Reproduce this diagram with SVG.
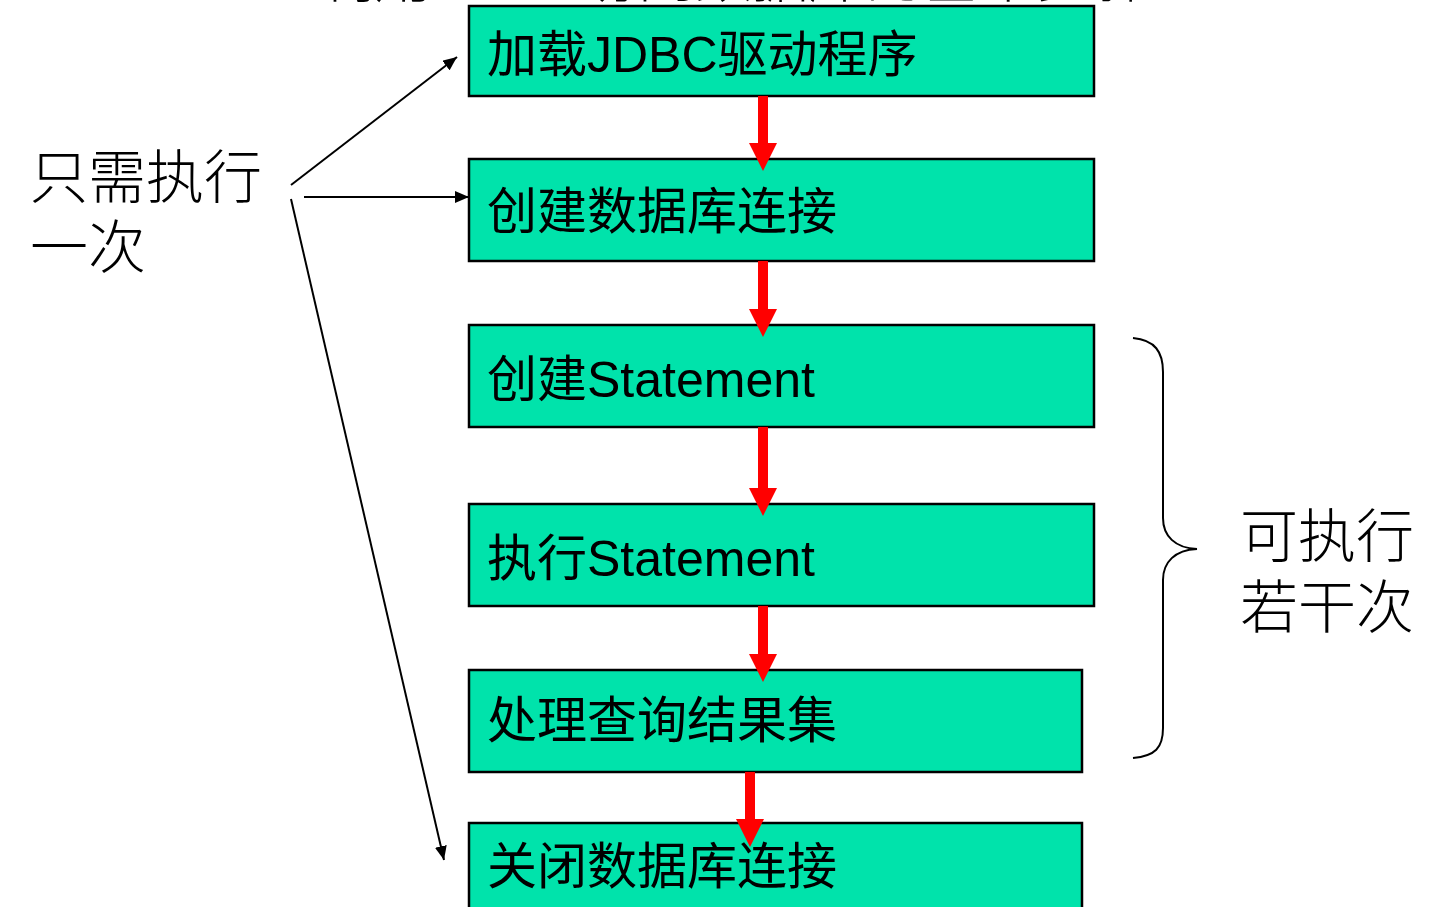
<svg xmlns="http://www.w3.org/2000/svg" width="1433" height="907" viewBox="0 0 1433 907">
  <style>
    .box { fill: #00E3AB; stroke: #000; stroke-width: 2.5; }
    .lbl { font-family: "Liberation Sans", "Noto Sans CJK SC", sans-serif; font-size: 50px; fill: #000; }
    .side { font-family: "Noto Sans CJK SC", sans-serif; font-size: 58px; fill: #000; font-weight: 300; }
    .ctl { fill: none; stroke: #000; stroke-width: 2; }
    .red { fill: #FF0000; }
  </style>
  <defs>
    <marker id="ah" markerUnits="userSpaceOnUse" markerWidth="16" markerHeight="12" refX="14" refY="6" orient="auto">
      <path d="M0,0 L14,6 L0,12 Z" fill="#000"/>
    </marker>
  </defs>
  <rect width="1433" height="907" fill="#fff"/>

  <text x="318" y="-3" style="font-family:'Liberation Sans','Noto Sans CJK SC',sans-serif;font-size:57px;font-weight:300">利用JDBC访问数据库的基本步骤</text>

  <g id="n1"><rect class="box" x="469" y="6" width="625" height="90"/><text class="lbl" x="487" y="72">加载JDBC驱动程序</text></g>
  <g id="n2"><rect class="box" x="469" y="159" width="625" height="102"/><text class="lbl" x="487" y="229">创建数据库连接</text></g>
  <g id="n3"><rect class="box" x="469" y="325" width="625" height="102"/><text class="lbl" x="487" y="397">创建Statement</text></g>
  <g id="n4"><rect class="box" x="469" y="504" width="625" height="102"/><text class="lbl" x="487" y="576">执行Statement</text></g>
  <g id="n5"><rect class="box" x="469" y="670" width="613" height="102"/><text class="lbl" x="487" y="738">处理查询结果集</text></g>
  <g id="n6"><rect class="box" x="469" y="823" width="613" height="100"/><text class="lbl" x="487" y="884">关闭数据库连接</text></g>

  <g id="connectors">
    <path class="red" d="M758,96 H768 V143 H777 L763,171 L749,143 H758 Z"/>
    <path class="red" d="M758,261 H768 V309 H777 L763,337 L749,309 H758 Z"/>
    <path class="red" d="M758,427 H768 V488 H777 L763,516 L749,488 H758 Z"/>
    <path class="red" d="M758,606 H768 V654 H777 L763,682 L749,654 H758 Z"/>
    <path class="red" d="M745,772 H755 V819 H764 L750,847 L736,819 H745 Z"/>
    <line class="ctl" x1="291" y1="185" x2="457" y2="57" marker-end="url(#ah)"/>
    <line class="ctl" x1="304" y1="197" x2="469" y2="197" marker-end="url(#ah)"/>
    <line class="ctl" x1="291" y1="199" x2="444" y2="860" marker-end="url(#ah)"/>
    <path class="ctl" d="M1133,338 C1155,340 1163,352 1163,372 V518 C1163,536 1175,548 1197,549 C1175,550 1163,562 1163,580 V728 C1163,748 1155,756 1133,758"/>
  </g>

  <g id="left-label">
    <text class="side" x="30" y="198">只需执行</text>
    <text class="side" x="30" y="268">一次</text>
  </g>
  <g id="right-label">
    <text class="side" x="1240" y="557">可执行</text>
    <text class="side" x="1240" y="628">若干次</text>
  </g>
</svg>
